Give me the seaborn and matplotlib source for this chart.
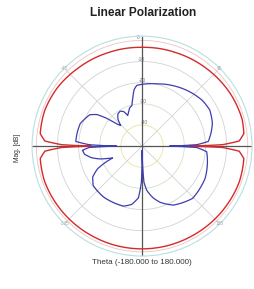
import numpy as np
import pandas as pd
import matplotlib
matplotlib.use("Agg")
import matplotlib.pyplot as plt
import seaborn as sns

# ---- data (theta in degrees, clockwise from top; magnitude in dB) ----
red_theta = [0, 20, 40, 60, 75, 83, 87, 89, 90, 91, 93, 97, 110, 130, 150, 180,
             210, 230, 250, 263, 267, 269, 270, 271, 273, 277, 290, 305, 320, 340, 360]
red_mag = [-3.3, -3.0, -2.3, -1.4, -1.0, -1.5, -4, -12, -28, -12, -4, -1.5, -1.0, -1.2, -1.4, -1.4,
           -1.4, -1.2, -1.0, -1.5, -4, -12, -26, -12, -4, -1.5, -1.0, -1.4, -2.3, -3.0, -3.3]

blue_theta = [0, 13, 27, 40, 53, 62, 72, 80, 86, 88.5, 90, 91.5, 95, 105, 117, 136, 152, 162,
              168, 174, 177, 179.5, 181, 184, 190, 197, 217, 231, 238, 243, 246, 248, 250,
              253, 257, 262, 266, 268.5, 270, 271.5, 274, 282, 290, 301, 305, 308, 311, 314,
              318, 323, 328, 332, 335, 338, 342, 346, 349, 352, 355, 360]
blue_mag = [-20.8, -19.8, -17.9, -16.0, -14.2, -13.7, -15.0, -17.0, -18.6, -24, -37, -24, -19.3,
            -18.0, -16.5, -15.6, -18.4, -22, -25.0, -29, -33, -48, -33, -25.5, -22, -20.3, -19.8,
            -20.3, -22.5, -26.4, -31, -35, -33, -29.2, -25.5, -22.5, -21.8, -25, -38, -25, -18.6,
            -18.7, -18.9, -21.2, -24, -28.5, -34, -36, -33, -31, -30.5, -31.5, -34, -33, -31,
            -30.2, -27, -23, -21.2, -20.8]

r_ticks = [-40, -30, -20, -10, 0]
r_tick_labels = ["-40", "-30", "-20", "-10", "0"]
ang_ticks = [0, 45, 90, 135, 180, 225, 270, 315]
ang_label_pos = [45, 135, 225, 315]
ang_labels = ["45", "135", "-135", "-45"]

title = "Linear Polarization"
xlabel = "Theta (-180.000 to 180.000)"
ylabel = "Mag. [dB]"

# ---- plot ----
sns.set_theme(style="white")
plt.rcParams['font.family'] = ['Liberation Sans', 'DejaVu Sans']

fig = plt.figure(figsize=(2.55, 2.89), dpi=100)
ax = fig.add_axes([0.1255, 0.114, 0.863, 0.761], projection='polar')
ax.set_theta_zero_location('N')
ax.set_theta_direction(-1)
ax.set_rlim(-50, 2)

ax.set_xticks(np.deg2rad(ang_ticks))
ax.set_xticklabels([])
ax.set_yticks(r_ticks)
ax.set_yticklabels(r_tick_labels, fontsize=3.5, color='#777777')
ax.set_rlabel_position(-3)
ax.grid(True, color='#d2d2d2', lw=0.6)
ring_colors = ['#ebe49a', '#cfe3c6', '#d2d2d2', '#d2d2d2', '#efc2c2']
for gl, c in zip(ax.yaxis.get_gridlines(), ring_colors):
    gl.set_color(c)
ax.spines['polar'].set_color('#b8e0e0')
ax.spines['polar'].set_linewidth(0.8)

# axis cross lines through the centre
ax.plot(np.deg2rad([0, 0, 180, 180]), [2, -50, -50, 2], color='#555555', lw=0.9, zorder=2)
ax.plot(np.deg2rad([90, 90, 270, 270]), [2, -50, -50, 2], color='#555555', lw=0.9, zorder=2)

red_df = pd.DataFrame({"theta": np.deg2rad(red_theta), "mag": red_mag})
blue_df = pd.DataFrame({"theta": np.deg2rad(blue_theta), "mag": blue_mag})
sns.lineplot(data=red_df, x="theta", y="mag", sort=False, estimator=None, ax=ax,
             color='#d42a2a', lw=1.0, zorder=3)
sns.lineplot(data=blue_df, x="theta", y="mag", sort=False, estimator=None, ax=ax,
             color='#3d3db0', lw=0.9, zorder=4)
# draw the pattern segments as arcs in polar space (library path interpolation)
for ln in ax.lines[2:]:
    ln.get_path()._interpolation_steps = 40
ax.set_xlabel("")
ax.set_ylabel("")
ax.set_rlim(-50, 2)

for a, lab in zip(ang_label_pos, ang_labels):
    ax.text(np.deg2rad(a), 2, lab, fontsize=3.5, color='#aaaaaa', ha='center', va='center')

fig.text(0.561, 0.955, title, ha='center', va='center', fontsize=8.6, fontweight='bold',
         color='#222222')
fig.text(0.557, 0.093, xlabel, ha='center', va='center', fontsize=5.8, color='#333333')
fig.text(0.067, 0.49, ylabel, ha='center', va='center', rotation=90, fontsize=4.8,
         color='#333333')

fig.savefig("out.png", dpi=100)
